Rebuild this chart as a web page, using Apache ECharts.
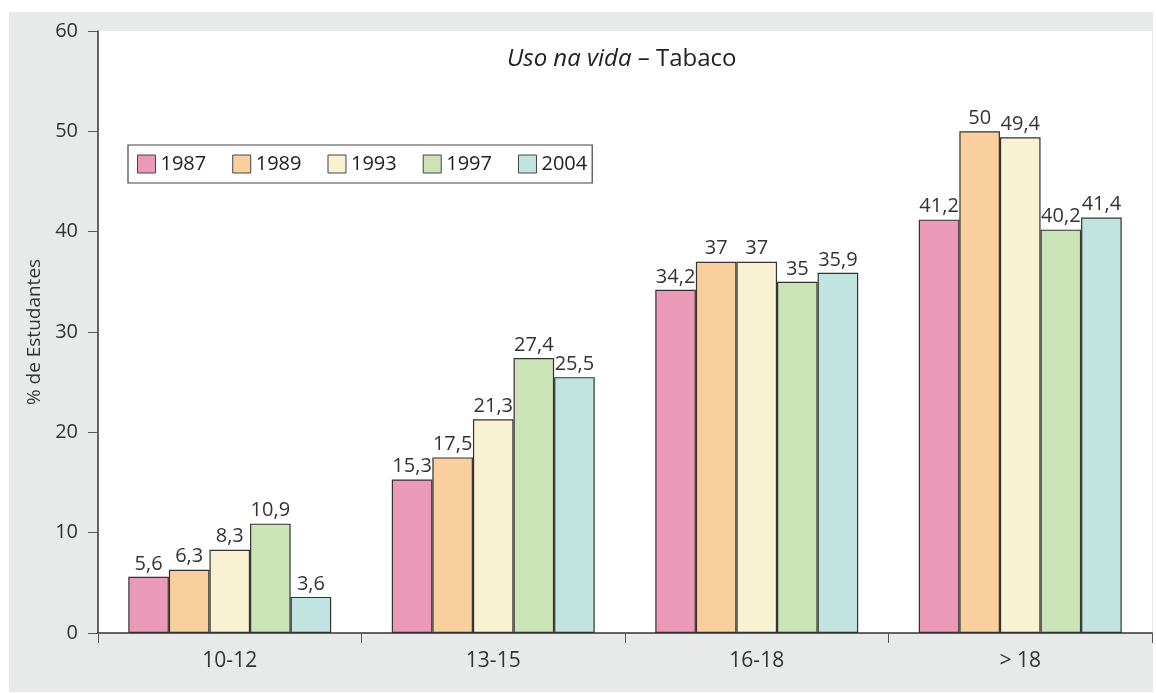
<!DOCTYPE html>
<html>
<head>
<meta charset="utf-8">
<script src="https://cdn.jsdelivr.net/npm/echarts@6/dist/echarts.min.js"></script>
<style>
html, body { margin: 0; padding: 0; background: #fff; }
#main { width: 1156px; height: 693px; }
</style>
</head>
<body>
<div id="main"></div>
<script>
var categories = ['10-12', '13-15', '16-18', '> 18'];
var years = ['1987', '1989', '1993', '1997', '2004'];
var v1987 = [5.6, 15.3, 34.2, 41.2];
var v1989 = [6.3, 17.5, 37, 50];
var v1993 = [8.3, 21.3, 37, 49.4];
var v1997 = [10.9, 27.4, 35, 40.2];
var v2004 = [3.6, 25.5, 35.9, 41.4];
var colors = ['#ea9ab6', '#f9d09d', '#f8f1d2', '#cbe4b7', '#c1e4e1'];

var chart = echarts.init(document.getElementById('main'));
var font = '"Open Sans", "Noto Sans", sans-serif';
var seriesData = [v1987, v1989, v1993, v1997, v2004];
var series = [];
for (var i = 0; i < years.length; i++) {
    series.push({
        name: years[i],
        type: 'bar',
        data: seriesData[i],
        barGap: '0%',
        barCategoryGap: '23%',
        itemStyle: { color: colors[i], borderColor: '#333', borderWidth: 1.2 },
        label: {
            show: true,
            position: 'top',
            distance: 3,
            color: '#333',
            fontSize: 20,
            fontFamily: font,
            formatter: function (p) { return String(p.value).replace('.', ','); }
        }
    });
}

var option = {
    backgroundColor: '#fff',
    animation: false,
    textStyle: { fontFamily: font },
    graphic: [{
        type: 'rect',
        z: -100,
        shape: { x: 9, y: 12, width: 1144, height: 680 },
        style: { fill: '#e8eae9' }
    }],
    title: {
        text: '{i|Uso na vida} – Tabaco',
        left: 502,
        top: 42,
        textStyle: {
            fontSize: 24,
            fontWeight: 'normal',
            color: '#222',
            fontFamily: font,
            rich: { i: { fontStyle: 'italic', fontSize: 24, color: '#222', fontFamily: font } }
        }
    },
    legend: {
        left: 128,
        top: 145,
        padding: [9, 5, 9, 9],
        itemGap: 26,
        itemWidth: 18,
        itemHeight: 18,
        borderColor: '#444',
        borderWidth: 1.2,
        backgroundColor: '#fff',
        icon: 'rect',
        itemStyle: { borderColor: '#444', borderWidth: 1 },
        textStyle: { fontSize: 20, color: '#222', fontFamily: font },
        data: years
    },
    grid: {
        left: 98,
        right: 4,
        top: 31,
        bottom: 60,
        show: true,
        backgroundColor: '#fff',
        borderWidth: 0
    },
    xAxis: {
        type: 'category',
        data: categories,
        axisLine: { lineStyle: { color: '#333', width: 1.5 } },
        axisTick: { show: true, length: 10, lineStyle: { color: '#555' } },
        axisLabel: { fontSize: 21, color: '#333', margin: 18, fontFamily: font }
    },
    yAxis: {
        type: 'value',
        min: 0,
        max: 60,
        interval: 10,
        name: '% de Estudantes',
        nameLocation: 'middle',
        nameRotate: 90,
        nameGap: 50,
        nameTextStyle: { fontSize: 19, color: '#333', fontFamily: font },
        axisLine: { show: true, lineStyle: { color: '#333', width: 1.5 } },
        axisTick: { show: true, length: 10, lineStyle: { color: '#555' } },
        axisLabel: { fontSize: 20, color: '#333', margin: 20, fontFamily: font },
        splitLine: { show: false }
    },
    series: series
};
chart.setOption(option);
</script>
</body>
</html>
